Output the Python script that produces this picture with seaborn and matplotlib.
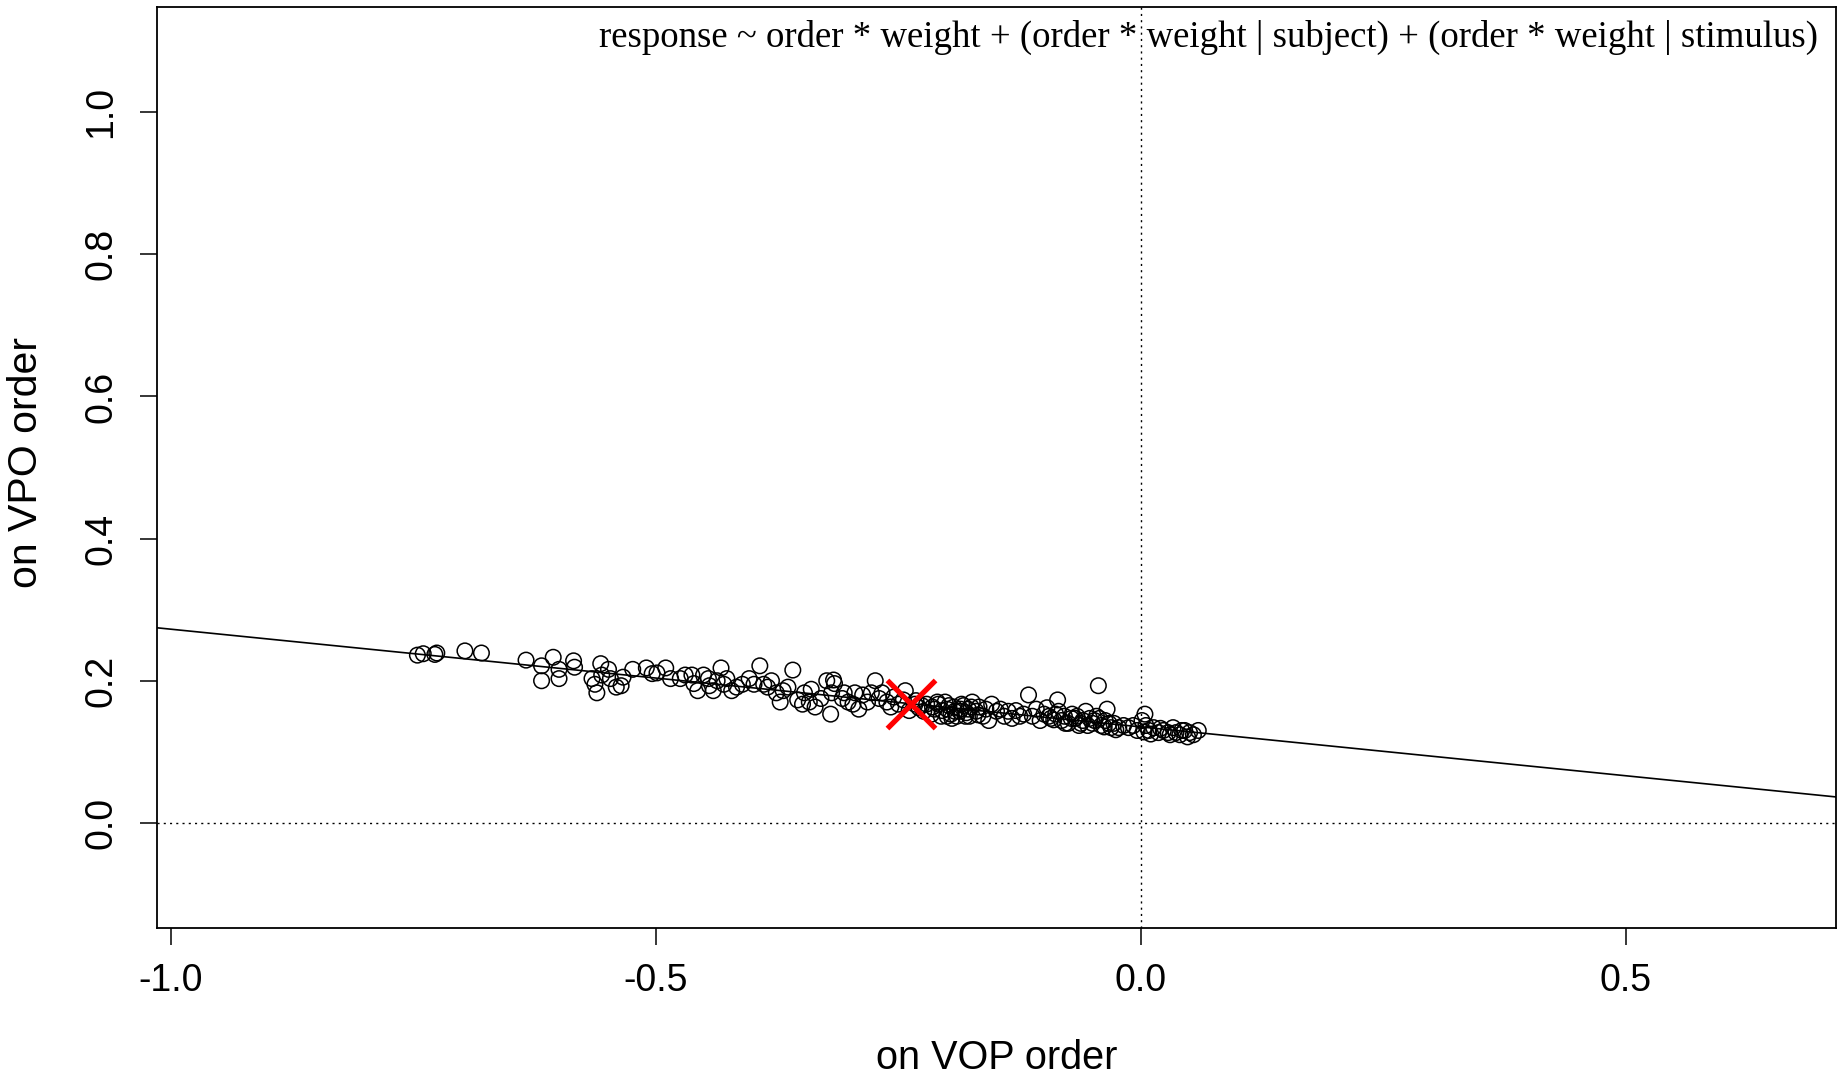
"""
Scatter of per-item estimates: effect on VOP order vs effect on VPO order
"""

import numpy as np
import matplotlib
import matplotlib.pyplot as plt
import seaborn as sns

plt.switch_backend("Agg")

# per-item estimates
vop_effect = [
    -0.746, -0.740, -0.728, -0.726, -0.697, -0.680,
    -0.634, -0.618, -0.618, -0.606, -0.600, -0.600, -0.585, -0.584,
    -0.566, -0.563, -0.561, -0.557, -0.556, -0.549, -0.547, -0.541,
    -0.536, -0.534, -0.524, -0.510, -0.504, -0.499, -0.490, -0.485,
    -0.475, -0.470, -0.463, -0.461, -0.457, -0.451, -0.446, -0.445,
    -0.441, -0.437, -0.433, -0.430, -0.427, -0.422, -0.417, -0.411,
    -0.404, -0.399, -0.393, -0.389, -0.385, -0.381, -0.376, -0.372,
    -0.369, -0.364, -0.359, -0.354, -0.349, -0.347, -0.342, -0.340,
    -0.336, -0.330, -0.324, -0.319, -0.317, -0.316, -0.320, -0.308,
    -0.306, -0.302, -0.297, -0.295, -0.291, -0.287, -0.282, -0.278,
    -0.274, -0.270, -0.267, -0.262, -0.258, -0.255, -0.250, -0.245,
    -0.243, -0.239, -0.233, -0.229, -0.224, -0.221, -0.216, -0.213,
    -0.209, -0.206, -0.202, -0.200, -0.196, -0.193, -0.190, -0.187,
    -0.185, -0.181, -0.178, -0.174, -0.170, -0.167, -0.163, -0.160,
    -0.157, -0.154, -0.149, -0.145, -0.141, -0.137, -0.133, -0.129,
    -0.125, -0.121, -0.116, -0.112, -0.108, -0.104, -0.100, -0.097,
    -0.093, -0.088, -0.086, -0.082, -0.079, -0.075, -0.071, -0.068,
    -0.064, -0.060, -0.057, -0.053, -0.050, -0.046, -0.044, -0.041,
    -0.037, -0.035, -0.031, -0.028, -0.023, -0.018, -0.013, -0.008,
    -0.004, 0.001, 0.004, 0.005, 0.008, 0.013, 0.018, 0.023,
    0.028, 0.033, 0.036, 0.040, 0.045, 0.050, 0.054, 0.059,
    -0.215, -0.205, -0.198, -0.192, -0.186, -0.180, -0.175, -0.168,
    -0.210, -0.200, -0.226, -0.232, -0.195, -0.183, -0.177,
    -0.095, -0.090, -0.085, -0.078, -0.072, -0.066, -0.062, -0.055,
    -0.048, -0.043, -0.038, -0.033, -0.026,
    0.003, 0.010, 0.020, 0.030, 0.042, 0.048,
]
vpo_effect = [
    0.236, 0.238, 0.237, 0.239, 0.242, 0.239,
    0.229, 0.221, 0.200, 0.233, 0.216, 0.203, 0.228, 0.219,
    0.203, 0.195, 0.183, 0.224, 0.208, 0.216, 0.203, 0.191,
    0.193, 0.205, 0.216, 0.218, 0.210, 0.211, 0.218, 0.203,
    0.203, 0.208, 0.208, 0.196, 0.186, 0.208, 0.203, 0.193,
    0.186, 0.200, 0.218, 0.195, 0.203, 0.186, 0.191, 0.195,
    0.203, 0.195, 0.221, 0.195, 0.191, 0.200, 0.183, 0.170,
    0.186, 0.191, 0.215, 0.173, 0.167, 0.183, 0.170, 0.188,
    0.163, 0.175, 0.200, 0.183, 0.201, 0.196, 0.153, 0.175,
    0.183, 0.170, 0.167, 0.183, 0.160, 0.180, 0.170, 0.183,
    0.200, 0.175, 0.183, 0.170, 0.163, 0.177, 0.167, 0.173,
    0.186, 0.158, 0.167, 0.162, 0.157, 0.167, 0.153, 0.160,
    0.167, 0.150, 0.170, 0.160, 0.153, 0.163, 0.150, 0.157,
    0.167, 0.150, 0.160, 0.170, 0.157, 0.163, 0.150, 0.160,
    0.144, 0.167, 0.157, 0.160, 0.150, 0.157, 0.147, 0.158,
    0.150, 0.153, 0.180, 0.150, 0.160, 0.144, 0.153, 0.162,
    0.147, 0.153, 0.173, 0.144, 0.150, 0.140, 0.153, 0.147,
    0.137, 0.144, 0.157, 0.147, 0.140, 0.150, 0.193, 0.137,
    0.144, 0.160, 0.134, 0.140, 0.134, 0.137, 0.134, 0.137,
    0.130, 0.144, 0.153, 0.137, 0.130, 0.134, 0.127, 0.130,
    0.127, 0.134, 0.127, 0.124, 0.130, 0.127, 0.124, 0.130,
    0.163, 0.158, 0.165, 0.157, 0.160, 0.155, 0.163, 0.152,
    0.170, 0.150, 0.165, 0.172, 0.147, 0.165, 0.150,
    0.150, 0.145, 0.157, 0.140, 0.147, 0.150, 0.140, 0.137,
    0.144, 0.147, 0.135, 0.140, 0.131,
    0.128, 0.125, 0.133, 0.124, 0.130, 0.121,
]

# fixed-effect estimate (red cross) and fitted line
fixed_x = [-0.237]
fixed_y = [0.167]
line_intercept = 0.135
line_slope = -0.1375

formula = "response ~ order * weight + (order * weight | subject) + (order * weight | stimulus)"
x_ticks = [-1.0, -0.5, 0.0, 0.5]
y_ticks = [0.0, 0.2, 0.4, 0.6, 0.8, 1.0]

sns.set_style("white")
plt.rcParams["font.family"] = ["Liberation Sans", "DejaVu Sans"]

fig = plt.figure(figsize=(18.39, 10.77), dpi=100)
ax = fig.add_axes([0.0854, 0.1383, 0.9130, 0.8552])

# reference lines
ax.axhline(0, color="black", lw=1.0, ls=(0, (1.5, 3)))
ax.axvline(0, color="black", lw=1.0, ls=(0, (1.5, 3)))

# fitted line across the full range
xs = np.array([-1.1, 0.8])
ax.plot(xs, line_intercept + line_slope * xs, color="black", lw=1.2)

sns.scatterplot(
    x=vop_effect, y=vpo_effect, ax=ax, marker="o", s=125,
    facecolor="none", edgecolor="black", linewidth=1.1, zorder=3,
)
sns.scatterplot(
    x=fixed_x, y=fixed_y, ax=ax, marker="x", s=1200,
    color="red", linewidth=3.8, zorder=4,
)

ax.set_xlim(-1.0144, 0.7165)
ax.set_ylim(-0.148, 1.148)
ax.set_xticks(x_ticks)
ax.set_xticklabels([f"{t:.1f}" for t in x_ticks])
ax.set_yticks(y_ticks)
ax.set_yticklabels([f"{t:.1f}" for t in y_ticks], rotation=90, va="center")
ax.tick_params(direction="out", length=12, width=1.1, labelsize=27,
               color="black", labelcolor="black", bottom=True, left=True)
ax.tick_params(axis="x", pad=13)
ax.tick_params(axis="y", pad=15)

for sp in ax.spines.values():
    sp.set_visible(True)
    sp.set_color("black")
    sp.set_linewidth(1.3)

ax.set_xlabel("on VOP order", fontsize=28.5, color="black", va="center")
ax.set_ylabel("on VPO order", fontsize=29.5, color="black", va="center")
ax.xaxis.set_label_coords(0.5, -0.141)
ax.yaxis.set_label_coords(-0.078, 0.505)

ax.text(0.989, 0.967, formula, transform=ax.transAxes, ha="right", va="center",
        fontsize=26.5, family=["Liberation Serif", "DejaVu Serif"], color="black")

fig.savefig("out.png", dpi=100)
